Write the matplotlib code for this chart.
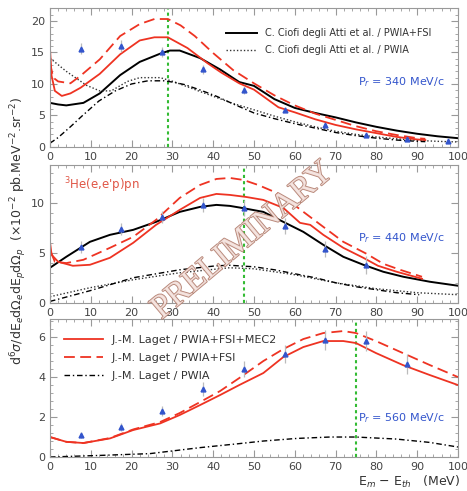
import matplotlib
matplotlib.use('Agg')
import matplotlib.pyplot as plt
import matplotlib.patheffects as pe
from matplotlib.ticker import MultipleLocator

# ---- datos ----
# dades experimentals (Em - Eth, seccio eficac, error)
x_pts = [7.5, 17.5, 27.5, 37.5, 47.5, 57.5, 67.5, 77.5, 87.5, 97.5]
y1_pts = [15.6, 16.0, 15.0, 12.3, 9.0, 5.9, 3.5, 1.9, 1.27, 1.0]
e1_pts = [0.9, 0.9, 0.8, 0.7, 0.6, 0.4, 0.3, 0.2, 0.15, 0.1]
x2_pts = [7.5, 17.5, 27.5, 37.5, 47.5, 57.5, 67.5, 77.5]
y2_pts = [5.6, 7.4, 8.6, 9.8, 9.5, 7.7, 5.4, 3.8]
e2_pts = [0.6, 0.6, 0.6, 0.7, 0.8, 0.8, 0.8, 0.9]
x3_pts = [7.5, 17.5, 27.5, 37.5, 47.5, 57.5, 67.5, 77.5, 87.5]
y3_pts = [1.1, 1.5, 2.3, 3.4, 4.4, 5.15, 5.85, 5.8, 4.65]
e3_pts = [0.15, 0.2, 0.25, 0.35, 0.4, 0.45, 0.5, 0.5, 0.5]

# Pr = 340 MeV/c
c1_fsi_x = [0, 2, 4, 8.2, 12.2, 17.2, 22, 27, 29.4, 31.8, 36.8, 41.7, 46.4, 50, 55, 60, 65, 70, 75, 80, 85, 90, 95, 100]
c1_fsi_y = [7.0, 6.75, 6.6, 7.0, 8.5, 11.4, 13.5, 14.8, 15.3, 15.3, 14.1, 12.3, 10.3, 9.7, 7.6, 6.2, 5.4, 4.7, 3.9, 3.2, 2.6, 2.1, 1.7, 1.4]
c1_pwia_x = [0, 4, 8.9, 12.2, 15, 19, 22, 27, 30.2, 36.8, 44.9, 50, 55, 60, 65, 70, 75, 80, 85, 90, 95, 100]
c1_pwia_y = [14.1, 12.0, 9.8, 8.9, 8.9, 10.4, 11.0, 11.0, 10.4, 8.8, 6.9, 5.9, 4.9, 4.0, 3.2, 2.5, 2.0, 1.6, 1.3, 1.05, 0.9, 0.8]
l1_mec_x = [0, 0.4, 1.2, 2.9, 5, 7.5, 12.2, 17.2, 22, 25.6, 28.9, 33.7, 38.6, 42, 46.4, 50, 56, 60, 65, 70, 75, 80, 85, 90, 92]
l1_mec_y = [15.7, 11.3, 8.9, 8.1, 8.5, 9.4, 11.6, 14.7, 16.9, 17.4, 17.4, 15.7, 13.3, 11.8, 10.1, 9.1, 6.3, 5.5, 4.4, 3.5, 2.8, 2.2, 1.6, 1.2, 1.1]
l1_fsi_x = [0, 0.8, 2, 5, 7.5, 12.2, 17.2, 22, 25.6, 28.9, 32, 35.5, 40, 44.9, 50, 55, 60, 65, 70, 75, 80, 85, 90, 92]
l1_fsi_y = [13.3, 11.0, 10.4, 10.1, 11.3, 13.9, 17.6, 19.5, 20.3, 20.3, 19.3, 17.6, 14.9, 12.2, 10.1, 8.2, 6.6, 5.3, 4.3, 3.3, 2.5, 1.9, 1.4, 1.3]
l1_pwia_x = [0, 2, 5, 8, 12, 16, 20, 24, 28, 30, 33, 37, 41, 45, 50, 55, 60, 65, 70, 75, 80, 85, 90, 92]
l1_pwia_y = [0.6, 1.5, 3.2, 5.0, 7.3, 8.9, 10.0, 10.5, 10.5, 10.3, 9.9, 9.0, 8.0, 6.8, 5.4, 4.5, 3.7, 3.0, 2.3, 1.8, 1.4, 1.1, 0.9, 0.85]

# Pr = 440 MeV/c
c2_fsi_x = [0, 4, 9.8, 14.7, 20.4, 26, 31.8, 36.8, 40.8, 44.1, 47, 52.3, 57.2, 62.1, 67, 71.9, 76.8, 81.7, 86.6, 93.1, 100]
c2_fsi_y = [3.5, 4.6, 6.1, 6.8, 7.3, 8.1, 9.1, 9.6, 9.8, 9.7, 9.5, 9.1, 8.1, 7.1, 5.8, 4.6, 3.8, 3.1, 2.6, 2.1, 1.7]
c2_pwia_x = [0, 9.8, 20.4, 31.8, 44, 50, 55, 60, 65, 70, 75, 80, 85, 90, 95, 100]
c2_pwia_y = [0.6, 1.5, 2.3, 3.0, 3.5, 3.4, 3.1, 2.8, 2.4, 2.0, 1.7, 1.4, 1.2, 1.0, 0.9, 0.8]
l2_mec_x = [0, 0.4, 2, 5.6, 9.8, 14.7, 20.4, 26, 31.8, 36.8, 40.8, 44.1, 48, 52.3, 57.2, 61.3, 63.8, 67, 71.9, 76.8, 80.4, 85, 91.2]
l2_mec_y = [6.1, 4.8, 4.1, 3.7, 3.8, 4.5, 6.0, 7.8, 9.3, 10.5, 10.9, 10.8, 10.6, 10.3, 9.5, 8.0, 7.8, 6.8, 5.5, 4.5, 3.7, 3.1, 2.4]
l2_fsi_x = [0.2, 1.2, 4, 8.2, 14.7, 20.4, 26, 31.8, 36.8, 40.8, 44.1, 47.4, 51, 55.6, 60.5, 67, 71.9, 77.6, 81.7, 85.8, 91.2]
l2_fsi_y = [5.1, 4.1, 3.97, 4.3, 5.5, 6.6, 8.3, 10.5, 11.8, 12.4, 12.5, 12.3, 11.8, 11.0, 9.6, 7.6, 6.1, 4.9, 3.9, 3.3, 2.6]
l2_pwia_x = [0, 9.8, 20.4, 31.8, 40.8, 44, 50, 55, 60, 65, 70, 75, 80, 85, 90.5]
l2_pwia_y = [0.13, 1.2, 2.5, 3.3, 3.7, 3.75, 3.6, 3.3, 2.9, 2.5, 2.0, 1.6, 1.3, 1.0, 0.8]

# Pr = 560 MeV/c
l3_mec_x = [0, 4, 8.2, 14.7, 20.4, 27, 31.8, 36.8, 41.7, 46.4, 52.3, 57.2, 62.1, 67, 71.9, 75, 79.9, 86.5, 93.1, 100]
l3_mec_y = [1.0, 0.76, 0.7, 0.93, 1.35, 1.68, 2.1, 2.6, 3.1, 3.6, 4.2, 5.0, 5.5, 5.8, 5.8, 5.7, 5.2, 4.6, 4.1, 3.6]
l3_fsi_x = [0, 4, 8.2, 14.7, 20.4, 27, 31.8, 36.8, 41.7, 46.4, 52.3, 57.2, 62.1, 67, 71.9, 75, 79.9, 86.5, 93.1, 100]
l3_fsi_y = [1.0, 0.76, 0.7, 0.95, 1.38, 1.75, 2.2, 2.75, 3.3, 3.95, 4.8, 5.4, 5.9, 6.2, 6.3, 6.2, 5.8, 5.2, 4.6, 4.0]
l3_pwia_x = [0, 12.2, 24.5, 36.8, 46.4, 52.3, 60.5, 68.6, 75, 84.8, 93.1, 100]
l3_pwia_y = [0.0, 0.08, 0.17, 0.47, 0.67, 0.8, 0.93, 1.0, 1.0, 0.9, 0.73, 0.5]

p_labels = ['340', '440', '560']
cut_x = [29, 47.5, 75]
ymax = [22, 13.8, 6.9]
ystep = [5, 5, 2]

# ---- figura ----
fig = plt.figure(figsize=(4.67, 4.91), dpi=100)
rect = [[0.107, 0.7006, 0.8736, 0.2825],
        [0.107, 0.3835, 0.8736, 0.2805],
        [0.107, 0.0692, 0.8736, 0.281]]
axs = [fig.add_axes(r) for r in rect]

red = '#ee3322'
blue = '#3355cc'
frame = '#999999'

for i, ax in enumerate(axs):
    ax.set_xlim(0, 100)
    ax.set_ylim(0, ymax[i])
    ax.xaxis.set_major_locator(MultipleLocator(10))
    ax.xaxis.set_minor_locator(MultipleLocator(2))
    ax.yaxis.set_major_locator(MultipleLocator(ystep[i]))
    ax.yaxis.set_minor_locator(MultipleLocator(ystep[i] / 5))
    ax.tick_params(which='both', direction='in', top=True, right=True, color=frame,
                   labelsize=8, labelcolor='#444444')
    ax.tick_params(which='major', length=5)
    ax.tick_params(which='minor', length=2.5)
    for s in ax.spines.values():
        s.set_color(frame)
    ax.axvline(cut_x[i], color='#33bb33', ls=(0, (1.5, 1.5)), lw=1.5, zorder=1)
    ax.text(0.755, [0.47, 0.47, 0.28][i], 'P$_r$ = ' + p_labels[i] + ' MeV/c', color=blue,
            fontsize=8, transform=ax.transAxes, va='center')

ax1, ax2, ax3 = axs

# panell 1
ax1.plot(c1_fsi_x, c1_fsi_y, color='black', lw=1.4, label='C. Ciofi degli Atti et al. / PWIA+FSI')
ax1.plot(c1_pwia_x, c1_pwia_y, color='#333333', lw=1.0, ls=(0, (1, 1.5)), label='C. Ciofi degli Atti et al. / PWIA')
ax1.plot(l1_mec_x, l1_mec_y, color=red, lw=1.3)
ax1.plot(l1_fsi_x, l1_fsi_y, color=red, lw=1.3, ls=(0, (6, 3)))
ax1.plot(l1_pwia_x, l1_pwia_y, color='black', lw=1.0, ls=(0, (4, 2, 1, 2)))
ax1.errorbar(x_pts, y1_pts, yerr=e1_pts, fmt='^', color=blue, ms=3.5, ecolor='#bbbbbb', elinewidth=0.9, zorder=5)
ax1.legend(loc='upper left', bbox_to_anchor=(0.41, 0.92), frameon=False, fontsize=7,
           handlelength=3.2, labelcolor='#333333', labelspacing=0.75)

# panell 2
ax2.plot(c2_fsi_x, c2_fsi_y, color='black', lw=1.4)
ax2.plot(c2_pwia_x, c2_pwia_y, color='#333333', lw=1.0, ls=(0, (1, 1.5)))
ax2.plot(l2_mec_x, l2_mec_y, color=red, lw=1.3)
ax2.plot(l2_fsi_x, l2_fsi_y, color=red, lw=1.3, ls=(0, (6, 3)))
ax2.plot(l2_pwia_x, l2_pwia_y, color='black', lw=1.0, ls=(0, (4, 2, 1, 2)))
ax2.errorbar(x2_pts, y2_pts, yerr=e2_pts, fmt='^', color=blue, ms=3.5, ecolor='#bbbbbb', elinewidth=0.9, zorder=5)
ax2.text(3.5, 11.8, "$^3$He(e,e'p)pn", color='#e05545', fontsize=8.5, va='center')

# panell 3
ax3.plot(l3_mec_x, l3_mec_y, color=red, lw=1.3, label='J.-M. Laget / PWIA+FSI+MEC2')
ax3.plot(l3_fsi_x, l3_fsi_y, color=red, lw=1.3, ls=(0, (6, 3)), label='J.-M. Laget / PWIA+FSI')
ax3.plot(l3_pwia_x, l3_pwia_y, color='black', lw=1.0, ls=(0, (4, 2, 1, 2)), label='J.-M. Laget / PWIA')
ax3.errorbar(x3_pts, y3_pts, yerr=e3_pts, fmt='^', color=blue, ms=3.5, ecolor='#bbbbbb', elinewidth=0.9, zorder=5)
ax3.legend(loc='upper left', bbox_to_anchor=(0.01, 0.96), frameon=False, fontsize=8,
           handlelength=3.5, labelcolor='#333333', labelspacing=0.75)

fig.text(0.04, 0.53, r'd$^6\sigma$/dE$_e$d$\Omega_e$dE$_p$d$\Omega_p$  ($\times$10$^{-2}$ pb.MeV$^{-2}$.sr$^{-2}$)',
         rotation=90, ha='center', va='center', fontsize=9, color='#333333')
fig.text(0.985, 0.018, r'E$_m$ $-$ E$_{th}$   (MeV)', ha='right', va='center', fontsize=9, color='#333333')

fig.text(0.52, 0.51, 'PRELIMINARY', rotation=40, ha='center', va='center', fontsize=24,
         family='Liberation Serif', color='#f6e6e2', alpha=0.9,
         path_effects=[pe.withStroke(linewidth=1.3, foreground='#b07a6a')], zorder=10)

fig.savefig('out.png', dpi=100)
